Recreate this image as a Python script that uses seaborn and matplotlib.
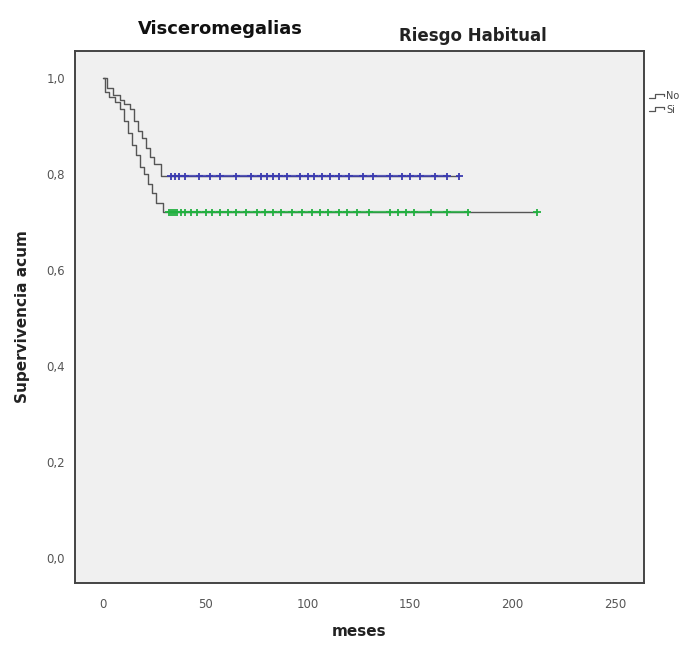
import numpy as np
import pandas as pd
import matplotlib
matplotlib.use("Agg")
import matplotlib.pyplot as plt
from matplotlib.lines import Line2D
from matplotlib.legend_handler import HandlerBase
import seaborn as sns

# Kaplan-Meier step values per group (event times in months, cumulative survival)
no_times = [0, 2, 5, 8, 10, 13, 15, 17, 19, 21, 23, 25, 28, 174]
no_surv = [1.0, 0.98, 0.965, 0.955, 0.945, 0.935, 0.91, 0.89, 0.875, 0.855, 0.835, 0.82, 0.795, 0.795]
si_times = [0, 1, 3, 6, 8, 10, 12, 14, 16, 18, 20, 22, 24, 26, 29, 212]
si_surv = [1.0, 0.97, 0.96, 0.95, 0.935, 0.91, 0.885, 0.86, 0.84, 0.815, 0.8, 0.78, 0.76, 0.74, 0.72, 0.72]

# Censored observations
no_cens = [33, 35, 37, 40, 47, 52, 57, 65, 72, 77, 80, 83, 86, 90, 96, 100, 103,
           107, 111, 115, 120, 127, 132, 140, 146, 150, 155, 162, 168, 174]
si_cens = [32, 33, 34, 35, 36, 38, 40, 43, 46, 50, 53, 57, 61, 65, 70, 75, 79, 83,
           87, 92, 97, 102, 106, 110, 115, 119, 124, 130, 140, 144, 148, 152, 160,
           168, 178, 212]

groups = ["No", "Si"]
cens_colors = {"No": "#3b3bb0", "Si": "#22b040"}
x_ticks = [0, 50, 100, 150, 200, 250]
y_ticks = [0.0, 0.2, 0.4, 0.6, 0.8, 1.0]

steps = pd.concat([
    pd.DataFrame({"meses": no_times, "surv": no_surv, "grupo": "No"}),
    pd.DataFrame({"meses": si_times, "surv": si_surv, "grupo": "Si"}),
])
cens = pd.concat([
    pd.DataFrame({"meses": no_cens, "surv": no_surv[-1], "grupo": "No"}),
    pd.DataFrame({"meses": si_cens, "surv": si_surv[-1], "grupo": "Si"}),
])


class StepHandler(HandlerBase):
    """Small step glyph for the legend, like a survival curve."""
    def create_artists(self, legend, orig_handle, xdescent, ydescent,
                       width, height, fontsize, trans):
        x0, x1 = -xdescent, -xdescent + width
        ymid = -ydescent + height * 0.2
        ytop = -ydescent + height * 0.85
        xs = [x0, x0 + width * 0.4, x0 + width * 0.4, x1, x1]
        ys = [ymid, ymid, ytop, ytop, ytop - height * 0.35]
        ln = Line2D(xs, ys, color=orig_handle.get_color(), lw=0.9, transform=trans)
        return [ln]


sns.set_style("white")
plt.rcParams["font.family"] = ["DejaVu Sans"]

fig = plt.figure(figsize=(6.98, 6.46), dpi=100, facecolor="white")
ax = fig.add_axes([0.108, 0.0975, 0.814, 0.8235])
ax.set_facecolor("#f0f0f0")

sns.lineplot(data=steps, x="meses", y="surv", hue="grupo", estimator=None,
             drawstyle="steps-post", palette={"No": "#555555", "Si": "#555555"},
             linewidth=1.0, legend=False, ax=ax)

# colored plateau between censored marks
for g in groups:
    sub = cens[cens["grupo"] == g]
    span = sorted(sub["meses"])
    ax.plot([span[0], span[-2]], [sub["surv"].iloc[0]] * 2,
            color=cens_colors[g], lw=1.6, alpha=0.8, zorder=3)

sns.scatterplot(data=cens, x="meses", y="surv", hue="grupo", palette=cens_colors,
                marker="+", s=28, linewidth=1.3, legend=False, ax=ax, zorder=4)

ax.set_xlim(-13.6, 264)
ax.set_ylim(-0.052, 1.056)
ax.set_xticks(x_ticks)
ax.set_xticklabels([str(t) for t in x_ticks])
ax.set_yticks(y_ticks)
ax.set_yticklabels([f"{t:.1f}".replace(".", ",") for t in y_ticks])
ax.tick_params(axis="both", direction="out", length=4, width=1.2, color="#444444",
               labelsize=8.5, labelcolor="#555555")
ax.tick_params(axis="x", pad=7)
for s in ax.spines.values():
    s.set_color("#444444")
    s.set_linewidth(1.4)

ax.set_xlabel("meses", fontsize=11, fontweight="bold", color="#222222", labelpad=9)
ax.set_ylabel("Supervivencia acum", fontsize=11, fontweight="bold", color="#222222", labelpad=12)

fig.text(0.315, 0.955, "Visceromegalias", fontsize=13, fontweight="bold",
         ha="center", va="center", color="#111111")
fig.text(0.678, 0.945, "Riesgo Habitual", fontsize=12, fontweight="bold",
         ha="center", va="center", color="#222222")

handles = [Line2D([0], [0], color="#555555", lw=1.0) for _ in groups]
leg = ax.legend(handles, groups, loc="upper left", bbox_to_anchor=(1.0, 0.935),
                frameon=False, fontsize=7, handlelength=1.5, handletextpad=0.2,
                labelspacing=0.35, borderaxespad=0.2,
                handler_map={Line2D: StepHandler()})
for t in leg.get_texts():
    t.set_color("#444444")

fig.savefig("out.png", dpi=100, facecolor="white")
